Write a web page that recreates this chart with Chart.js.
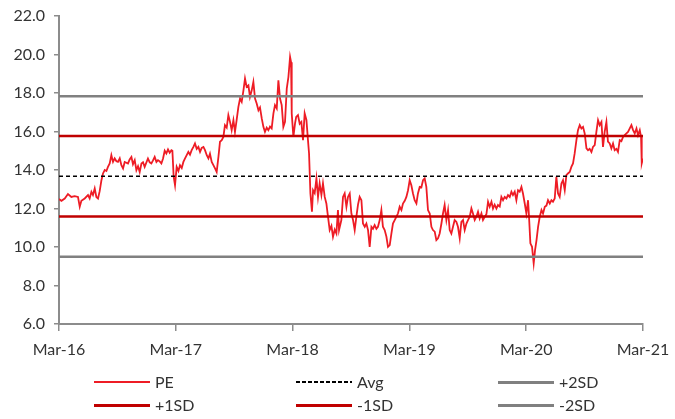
<!DOCTYPE html>
<html>
<head>
<meta charset="utf-8">
<script src="https://cdn.jsdelivr.net/npm/chart.js@4/dist/chart.umd.min.js"></script>
<style>
  html, body { margin: 0; padding: 0; background: #fff; }
  #wrap { position: relative; width: 675px; height: 419px; font-family: Lato, "Open Sans", sans-serif; color: #333; }
  canvas { position: absolute; left: 0; top: 0; }
  .lg { position: absolute; height: 20px; }
  .lg .ln { position: absolute; left: 0; width: 56px; }
  .lg .tx { position: absolute; left: 61px; top: 0; font-size: 16px; line-height: 20px; white-space: nowrap; }
</style>
</head>
<body>
<div id="wrap">
  <canvas id="c" width="675" height="419"></canvas>
</div>
<script>
// ---- data ----
const xTickLabels = ["Mar-16", "Mar-17", "Mar-18", "Mar-19", "Mar-20", "Mar-21"];
const yTickValues = [6, 8, 10, 12, 14, 16, 18, 20, 22];
// months since Mar-16
const months = [0,0.25,0.59,0.92,1.27,1.61,1.95,2.13,2.30,2.64,2.98,3.15,3.33,3.49,3.67,3.84,4.01,4.18,4.36,4.52,4.70,4.87,5.03,5.21,5.38,5.55,5.72,5.90,6.06,6.24,6.41,6.58,6.75,7.09,7.26,7.44,7.60,7.78,7.95,8.12,8.29,8.47,8.63,8.80,9.14,9.32,9.49,9.66,9.83,10.01,10.17,10.35,10.52,10.69,10.86,11.03,11.20,11.37,11.55,11.65,11.78,11.92,
12.09,12.27,12.43,12.61,12.78,12.95,13.12,13.29,13.46,13.63,13.81,13.97,14.15,14.32,14.49,14.66,14.84,15.00,15.18,15.35,15.51,15.69,15.86,16.03,16.20,16.38,16.54,16.72,16.89,17.05,17.23,17.40,17.57,17.74,17.92,18.08,18.25,18.43,18.60,18.77,18.95,19.11,19.28,19.46,19.62,19.80,19.97,20.14,20.31,20.49,20.65,20.83,21.00,21.16,21.34,21.51,21.68,21.85,22.03,22.19,22.37,22.54,22.71,22.88,23.05,23.22,23.40,23.57,23.74,23.84,23.91,
24.08,24.25,24.37,24.55,24.73,24.90,25.07,25.24,25.42,25.58,25.69,25.83,25.99,26.10,26.27,26.45,26.61,26.78,26.96,27.12,27.30,27.47,27.64,27.81,27.99,28.15,28.33,28.50,28.66,28.77,29.01,29.18,29.35,29.53,29.69,29.87,30.04,30.21,30.38,30.55,30.72,30.89,31.07,31.23,31.41,31.58,31.75,31.92,32.10,32.26,32.43,32.61,32.77,32.95,33.12,33.28,33.46,33.64,33.80,33.98,34.15,34.31,34.49,34.66,34.83,35.00,35.18,35.34,35.52,35.69,35.86,
36.03,36.20,36.37,36.54,36.72,36.88,37.06,37.23,37.40,37.57,37.74,37.91,38.09,38.26,38.42,38.60,38.77,38.94,39.11,39.29,39.45,39.62,39.80,39.97,40.14,40.31,40.48,40.65,40.83,40.99,41.17,41.34,41.51,41.68,41.86,42.02,42.20,42.37,42.53,42.71,42.88,43.05,43.22,43.40,43.56,43.74,43.91,44.08,44.25,44.43,44.59,44.76,44.94,45.10,45.28,45.45,45.62,45.79,45.97,46.13,46.31,46.48,46.64,46.82,46.99,47.16,47.33,47.51,47.67,47.85,
48.02,48.19,48.29,48.43,48.60,48.77,48.91,49.06,49.22,49.39,49.57,49.73,49.91,50.08,50.24,50.42,50.59,50.75,50.93,51.10,51.27,51.44,51.62,51.78,51.96,52.13,52.29,52.47,52.64,52.81,52.98,53.16,53.32,53.50,53.67,53.84,54.01,54.19,54.35,54.52,54.70,54.86,55.04,55.21,55.38,55.55,55.73,55.89,56.06,56.24,56.40,56.58,56.75,56.92,57.09,57.27,57.43,57.61,57.78,57.95,58.12,58.30,58.46,58.64,58.81,58.98,59.15,59.33,59.49,59.67,59.80,59.87,60.00];
const pe = [12.49,12.40,12.52,12.75,12.60,12.64,12.60,12.09,12.40,12.52,12.70,12.52,12.87,12.70,13.04,12.60,12.52,12.90,13.47,13.82,14.00,13.95,14.16,14.34,14.77,14.42,14.60,14.45,14.42,14.60,14.25,14.08,14.42,14.34,14.55,14.68,14.30,14.51,13.99,14.20,13.90,14.34,14.40,14.16,14.60,14.40,14.34,14.50,14.68,14.42,14.51,14.45,14.34,14.60,15.00,14.86,15.07,14.90,15.03,15.00,13.65,13.21,
14.16,13.95,14.25,14.10,14.42,14.60,14.77,14.94,14.80,15.03,15.20,15.38,15.10,15.20,14.94,15.15,15.20,15.03,14.77,14.60,14.85,14.42,14.25,14.08,13.90,14.68,15.47,15.55,15.72,16.33,16.20,16.85,16.50,16.07,16.59,15.98,16.59,17.28,17.71,17.54,18.14,18.75,18.32,18.40,17.80,18.14,18.58,17.71,17.45,17.10,17.25,16.68,16.24,15.98,16.20,16.07,16.25,16.16,16.94,17.37,17.20,18.66,17.71,17.37,16.24,16.50,18.23,18.83,19.87,19.60,16.94,
15.72,16.42,16.76,16.85,16.40,16.50,15.55,16.94,16.60,15.55,14.86,12.78,11.83,12.95,12.80,13.56,12.60,13.30,12.70,13.30,12.60,12.26,11.57,10.88,11.10,10.53,10.90,10.70,11.92,10.88,11.40,12.60,12.78,12.09,12.60,12.78,11.74,11.40,10.88,11.57,12.20,12.60,12.43,11.22,11.05,11.22,10.88,10.01,11.05,10.95,11.14,10.95,11.05,11.40,11.92,11.05,10.88,10.53,10.01,10.10,10.70,11.22,11.40,11.57,11.75,12.09,11.92,12.26,12.40,12.60,12.95,
13.47,13.21,12.78,12.43,12.26,12.78,13.12,13.10,13.47,13.56,13.12,11.92,11.74,11.05,10.88,10.80,10.36,10.45,10.70,11.22,11.74,12.18,11.40,11.92,10.88,10.70,11.05,11.40,11.30,11.05,10.45,11.31,11.40,10.88,11.22,11.40,11.57,12.00,11.74,11.40,11.57,11.83,11.48,11.74,11.40,11.57,11.70,12.35,12.09,12.35,12.00,12.20,12.00,12.18,12.10,12.60,12.43,12.60,12.52,12.70,12.60,12.87,12.70,12.87,12.43,12.95,12.87,13.12,12.78,12.26,
11.74,12.43,11.57,10.19,10.01,9.15,9.84,10.36,11.05,11.57,11.92,11.74,12.09,12.15,12.43,12.26,12.43,12.35,12.52,13.65,12.78,12.60,13.30,13.47,12.95,13.73,13.82,13.90,14.16,14.34,14.86,15.55,16.07,16.33,16.16,16.24,15.90,15.12,15.03,15.10,14.94,15.20,15.29,15.98,16.59,16.33,16.50,15.20,15.98,16.50,15.47,15.38,15.12,15.38,15.03,15.10,14.94,15.55,15.50,15.72,15.81,15.90,15.98,16.16,16.33,16.07,15.90,16.16,15.81,16.07,15.72,14.34,14.60];
const avgValue = 13.67;
const plus1SD = 15.76;
const minus1SD = 11.59;
const plus2SD = 17.83;
const minus2SD = 9.49;
const seriesNames = ["PE", "Avg", "+2SD", "+1SD", "-1SD", "-2SD"];

// ---- styles ----
const RED = "#EE1C25", DARKRED = "#C00000", GREY = "#808080", AXIS = "#8C8C8C";

const peData = months.map((m, i) => ({ x: m, y: pe[i] }));
const flat = v => [{ x: 0, y: v }, { x: 60, y: v }];
const noOverflow = s => { s.paddingLeft = 0; s.paddingRight = 0; s.paddingTop = 0; s.paddingBottom = 0; };

const ctx = document.getElementById("c").getContext("2d");
new Chart(ctx, {
  type: "line",
  data: {
    datasets: [
      { label: seriesNames[0], data: peData, borderColor: RED, borderWidth: 1.8, pointRadius: 0, order: 2 },
      { label: seriesNames[1], data: flat(avgValue), borderColor: "#000", borderWidth: 1.5, borderDash: [4, 3], pointRadius: 0, order: 1 },
      { label: seriesNames[2], data: flat(plus2SD), borderColor: GREY, borderWidth: 2.5, pointRadius: 0, order: 1 },
      { label: seriesNames[3], data: flat(plus1SD), borderColor: DARKRED, borderWidth: 2.5, pointRadius: 0, order: 1 },
      { label: seriesNames[4], data: flat(minus1SD), borderColor: DARKRED, borderWidth: 2.5, pointRadius: 0, order: 1 },
      { label: seriesNames[5], data: flat(minus2SD), borderColor: GREY, borderWidth: 2.5, pointRadius: 0, order: 1 }
    ]
  },
  options: {
    responsive: false,
    animation: false,
    devicePixelRatio: 1,
    layout: { padding: { left: 0, right: 32, top: 16, bottom: 55 } },
    plugins: { legend: { display: false }, tooltip: { enabled: false } },
    elements: { line: { tension: 0 } },
    scales: {
      x: {
        type: "linear", min: 0, max: 60,
        afterBuildTicks: s => { s.ticks = xTickLabels.map((_, i) => ({ value: i * 12 })); },
        afterFit: s => { s.height = 40; noOverflow(s); },
        ticks: { callback: v => xTickLabels[Math.round(v / 12)], color: "#333", font: { family: "Lato", size: 16 }, padding: 9, maxRotation: 0, autoSkip: false },
        grid: { drawOnChartArea: false, drawTicks: true, tickLength: 7, color: AXIS, lineWidth: 1.5 },
        border: { color: AXIS, width: 2 }
      },
      y: {
        min: 6, max: 22,
        afterBuildTicks: s => { s.ticks = yTickValues.map(v => ({ value: v })); },
        afterFit: s => { s.width = 59; noOverflow(s); },
        ticks: { callback: v => v.toFixed(1), color: "#333", font: { family: "Lato", size: 16 }, padding: 9 },
        grid: { drawOnChartArea: false, drawTicks: true, tickLength: 5, color: AXIS, lineWidth: 1.5 },
        border: { color: AXIS, width: 2 }
      }
    }
  }
});

// ---- HTML legend (3 columns x 2 rows) ----
const legendItems = [
  { name: seriesNames[0], x: 94,  y: 372, css: "height:2px;background:" + RED },
  { name: seriesNames[1], x: 296, y: 372, css: "height:2px;background:repeating-linear-gradient(90deg,#000 0 4px,transparent 4px 6px)" },
  { name: seriesNames[2], x: 498, y: 372, css: "height:3px;background:" + GREY },
  { name: seriesNames[3], x: 94,  y: 395, css: "height:3px;background:" + DARKRED },
  { name: seriesNames[4], x: 296, y: 395, css: "height:3px;background:" + DARKRED },
  { name: seriesNames[5], x: 498, y: 395, css: "height:3px;background:" + GREY }
];
const wrap = document.getElementById("wrap");
legendItems.forEach(it => {
  const d = document.createElement("div");
  d.className = "lg";
  d.style.left = it.x + "px";
  d.style.top = it.y + "px";
  const ln = document.createElement("div");
  ln.className = "ln";
  ln.style.cssText = it.css + ";top:9px;";
  const tx = document.createElement("div");
  tx.className = "tx";
  tx.textContent = it.name;
  d.appendChild(ln); d.appendChild(tx);
  wrap.appendChild(d);
});
</script>
</body>
</html>
